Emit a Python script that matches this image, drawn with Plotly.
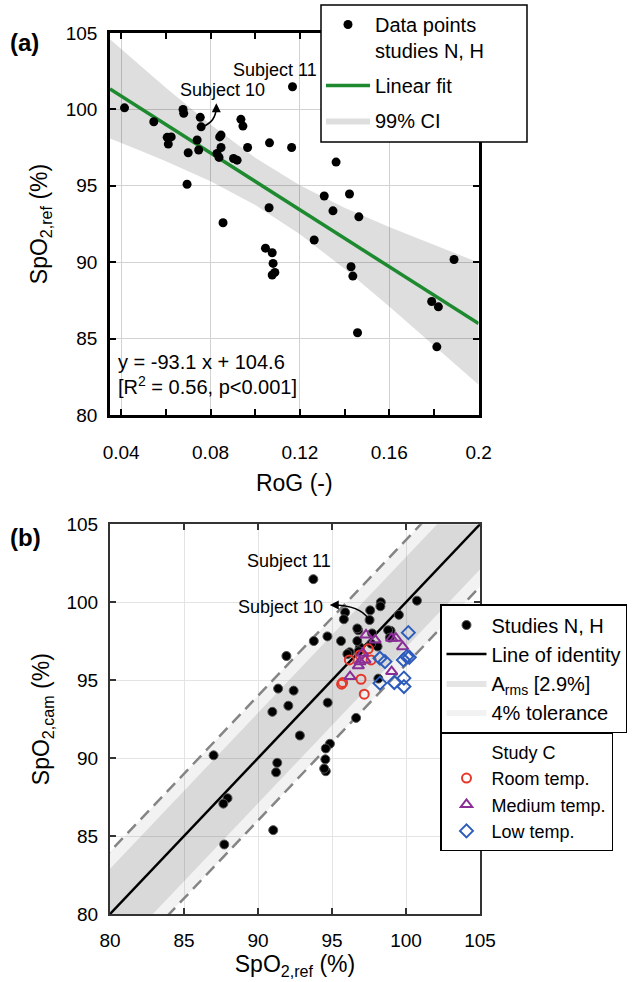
import plotly.graph_objects as go

FONT = "Liberation Sans, Arial, sans-serif"

# ---------------- Panel (a) data ----------------
rog = [0.0415, 0.0546, 0.0606, 0.0624, 0.0611, 0.0677, 0.0680, 0.0700, 0.0695, 0.0740,
       0.0747, 0.0754, 0.0758, 0.0829, 0.0838, 0.0841, 0.0847, 0.0847, 0.0903, 0.0919,
       0.0936, 0.0945, 0.0966, 0.1064, 0.1163, 0.1167, 0.1062, 0.0856, 0.1046, 0.1076,
       0.1080, 0.1076, 0.1088, 0.1264, 0.1362, 0.1309, 0.1422, 0.1348, 0.1464, 0.1429,
       0.1437, 0.1458, 0.1890, 0.1790, 0.1820, 0.1813]
spo2_ref_a = [100.10, 99.19, 98.17, 98.20, 97.73, 100.00, 99.74, 97.16, 95.10, 98.00,
              97.34, 99.48, 98.86, 97.12, 96.86, 98.20, 98.32, 97.51, 96.79, 96.68,
              99.35, 98.91, 97.51, 97.81, 97.51, 101.48, 93.56, 92.58, 90.92, 90.62,
              89.92, 89.16, 89.33, 91.45, 96.55, 94.33, 94.46, 93.36, 92.97, 89.70,
              89.09, 85.38, 90.18, 87.43, 87.08, 84.46]

fit_slope = -93.1
fit_intercept = 104.6
fit_x = [0.035, 0.2]

ci_x = [0.035, 0.05, 0.06, 0.08, 0.10, 0.12, 0.14, 0.16, 0.18, 0.20]
ci_upper = [104.59, 102.68, 101.42, 99.01, 96.83, 95.03, 93.57, 92.30, 91.12, 89.98]
ci_lower = [98.09, 97.22, 96.60, 95.29, 93.75, 91.83, 89.57, 87.10, 84.56, 81.98]

# ---------------- Panel (b) data ----------------
nh_ref = [100.74, 99.52, 98.96, 98.79, 98.91, 98.30, 98.27, 98.08, 98.13, 97.71,
          97.65, 97.58, 97.54, 96.88, 96.80, 96.77, 96.71, 96.71, 96.19, 96.04,
          95.89, 95.80, 95.61, 94.69, 93.77, 93.74, 94.71, 96.63, 94.86, 94.58,
          94.55, 94.58, 94.47, 92.83, 91.92, 92.41, 91.36, 92.05, 90.97, 91.30,
          91.22, 91.03, 87.00, 87.94, 87.66, 87.72]
nh_cam = spo2_ref_a

room_x = [97.45, 96.17, 96.89, 97.64, 96.96, 95.65, 95.72, 97.18]
room_y = [97.01, 96.30, 96.62, 96.30, 95.06, 94.74, 94.85, 94.10]
med_x = [97.30, 97.91, 99.03, 99.32, 99.77, 97.07, 97.23, 96.89, 96.78, 96.22, 99.03]
med_y = [97.90, 97.58, 97.69, 97.69, 97.15, 96.73, 96.30, 96.19, 95.92, 95.23, 95.55]
low_x = [100.16, 98.24, 98.58, 99.82, 100.05, 100.22, 98.24, 99.21, 99.86, 99.86]
low_y = [98.05, 96.41, 96.19, 96.30, 96.51, 96.47, 94.81, 94.85, 95.13, 94.59]

identity_x = [75, 110]
arms = 2.9
tolerance = 4.0

fig = go.Figure()

# ---- (a) traces ----
fig.add_trace(go.Scatter(
    x=ci_x + ci_x[::-1], y=ci_upper + ci_lower[::-1], fill="toself",
    fillcolor="rgba(0,0,0,0.13)", line=dict(width=0), mode="lines",
    name="99% CI", legend="legend", legendrank=3, legendgroup="ci", hoverinfo="skip",
    xaxis="x", yaxis="y"))
fig.add_trace(go.Scatter(
    x=fit_x, y=[fit_intercept + fit_slope * v for v in fit_x], mode="lines",
    line=dict(color="#1e8a30", width=3.5), name="Linear fit",
    legend="legend", legendrank=2, legendgroup="fit", xaxis="x", yaxis="y"))
fig.add_trace(go.Scatter(
    x=rog, y=spo2_ref_a, mode="markers",
    marker=dict(color="black", size=9),
    name="Data points<br>studies N, H", legend="legend", legendrank=1,
    legendgroup="pts", xaxis="x", yaxis="y"))

# ---- (b) traces ----
fig.add_trace(go.Scatter(
    x=identity_x + identity_x[::-1],
    y=[v + tolerance for v in identity_x] + [v - tolerance for v in identity_x[::-1]],
    fill="toself", fillcolor="rgba(0,0,0,0.05)", line=dict(width=0), mode="lines",
    name="4% tolerance", legend="legend2", legendrank=4, hoverinfo="skip",
    xaxis="x2", yaxis="y2"))
fig.add_trace(go.Scatter(
    x=identity_x + identity_x[::-1],
    y=[v + arms for v in identity_x] + [v - arms for v in identity_x[::-1]],
    fill="toself", fillcolor="rgba(0,0,0,0.10)", line=dict(width=0), mode="lines",
    name="A<sub>rms</sub> [2.9%]", legend="legend2", legendrank=3, hoverinfo="skip",
    xaxis="x2", yaxis="y2"))
for sgn in (1, -1):
    fig.add_trace(go.Scatter(
        x=identity_x, y=[v + sgn * tolerance for v in identity_x], mode="lines",
        line=dict(color="#858585", width=2.5, dash="12px,7px"), showlegend=False,
        hoverinfo="skip", xaxis="x2", yaxis="y2"))
fig.add_trace(go.Scatter(
    x=identity_x, y=identity_x, mode="lines", line=dict(color="black", width=2.5),
    name="Line of identity", legend="legend2", legendrank=2, xaxis="x2", yaxis="y2"))
fig.add_trace(go.Scatter(
    x=nh_ref, y=nh_cam, mode="markers",
    marker=dict(color="black", size=9, line=dict(color="#555555", width=1)),
    name="Studies N, H", legend="legend2", legendrank=1, xaxis="x2", yaxis="y2"))

fig.add_trace(go.Scatter(
    x=[None], y=[None], mode="markers", marker=dict(color="rgba(0,0,0,0)", size=1),
    name="Study C", legend="legend3", legendrank=1, xaxis="x2", yaxis="y2"))
fig.add_trace(go.Scatter(
    x=room_x, y=room_y, mode="markers",
    marker=dict(symbol="circle-open", color="#e5372a", size=9, line=dict(width=2)),
    name="Room temp.", legend="legend3", legendrank=2, xaxis="x2", yaxis="y2"))
fig.add_trace(go.Scatter(
    x=med_x, y=med_y, mode="markers",
    marker=dict(symbol="triangle-up-open", color="#8a2d96", size=10, line=dict(width=2)),
    name="Medium temp.", legend="legend3", legendrank=3, xaxis="x2", yaxis="y2"))
fig.add_trace(go.Scatter(
    x=low_x, y=low_y, mode="markers",
    marker=dict(symbol="diamond-open", color="#2d5cbd", size=10, line=dict(width=2)),
    name="Low temp.", legend="legend3", legendrank=4, xaxis="x2", yaxis="y2"))

W, H = 635, 982
tickfont = dict(family=FONT, size=19, color="black")
titlefont = dict(family=FONT, size=23, color="black")

axis_a = dict(showline=True, linecolor="black", linewidth=2.5, mirror="ticks",
              ticks="inside", ticklen=6, tickwidth=1.5, tickcolor="black",
              showgrid=True, gridcolor="#d2d2d2", gridwidth=1, zeroline=False,
              tickfont=tickfont, automargin=False)
axis_b = dict(showline=True, linecolor="#333333", linewidth=2, mirror="ticks",
              ticks="inside", ticklen=6, tickwidth=1.5, tickcolor="#333333",
              showgrid=True, gridcolor="#e4e4e4", gridwidth=1, zeroline=False,
              tickfont=tickfont, automargin=False)

legend_common = dict(bgcolor="white", bordercolor="black", borderwidth=1.5,
                     font=dict(family=FONT, size=20, color="black"),
                     xanchor="left", yanchor="top", valign="top")

fig.update_layout(
    width=W, height=H, margin=dict(l=0, r=0, t=0, b=0, autoexpand=False),
    paper_bgcolor="white", plot_bgcolor="white",
    font=dict(family=FONT, size=19, color="black"),
    xaxis=dict(axis_a, domain=[110 / W, 478.6 / W], range=[0.035, 0.2],
               tick0=0, dtick=0.04, anchor="y", ticklabelstandoff=18,
               minor=dict(dtick=0.02, tick0=0, ticks="inside", ticklen=6,
                          tickcolor="black", showgrid=False),
               title=dict(text="RoG (-)", font=titlefont, standoff=14)),
    yaxis=dict(axis_a, domain=[1 - 415 / H, 1 - 33 / H], range=[80, 105],
               dtick=5, anchor="x", ticklabelstandoff=6,
               title=dict(text="SpO<sub>2,ref</sub> (%)", font=titlefont, standoff=12)),
    xaxis2=dict(axis_b, domain=[110 / W, 480 / W], range=[80, 105], dtick=5,
                anchor="y2", ticklabelstandoff=8,
                title=dict(text="SpO<sub>2,ref</sub> (%)", font=titlefont, standoff=6)),
    yaxis2=dict(axis_b, domain=[1 - 914 / H, 1 - 524.3 / H], range=[80, 105],
                dtick=5, anchor="x2", ticklabelstandoff=6,
                title=dict(text="SpO<sub>2,cam</sub> (%)", font=titlefont, standoff=10)),
    legend=dict(legend_common, x=321 / W, y=1 - 5 / H, itemwidth=44,
                bgcolor="rgba(0,0,0,0)", borderwidth=0,
                tracegroupgap=6, traceorder="grouped"),
    legend2=dict(legend_common, x=440 / W, y=1 - 604 / H, itemwidth=40,
                 tracegroupgap=0, entrywidth=138),
    legend3=dict(legend_common, x=440 / W, y=1 - 732 / H, itemwidth=40,
                 tracegroupgap=0, entrywidth=138,
                 font=dict(family=FONT, size=18, color="black")),
    showlegend=True,
)

# box behind legend (a)
fig.add_shape(type="rect", xref="paper", yref="paper",
              x0=321 / W, x1=527 / W, y0=1 - 142 / H, y1=1 - 5 / H,
              fillcolor="white", line=dict(color="black", width=1.5), layer="above")

# Subject 10 curved arrows
fig.add_shape(type="path", xref="x", yref="y",
              path="M 0.0768,98.9 Q 0.0824,99.2 0.0826,100.15",
              line=dict(color="black", width=1.5))
fig.add_annotation(x=0.0826, y=100.4, ax=0.0826, ay=100.05, xref="x", yref="y",
                   axref="x", ayref="y", text="", showarrow=True, arrowhead=2,
                   arrowsize=1.2, arrowwidth=1.5, arrowcolor="black")
fig.add_shape(type="path", xref="x2", yref="y2",
              path="M 97.45,98.95 Q 96.9,99.8 95.05,99.83",
              line=dict(color="black", width=1.5))
fig.add_annotation(x=94.85, y=99.83, ax=95.25, ay=99.83, xref="x2", yref="y2",
                   axref="x2", ayref="y2", text="", showarrow=True, arrowhead=2,
                   arrowsize=1.2, arrowwidth=1.5, arrowcolor="black")

subj_font = dict(family=FONT, size=18, color="black")
fig.add_annotation(x=0.109, y=102.6, xref="x", yref="y", text="Subject 11",
                   showarrow=False, font=subj_font)
fig.add_annotation(x=0.0853, y=101.26, xref="x", yref="y", text="Subject 10",
                   showarrow=False, font=subj_font)
fig.add_annotation(x=92.1, y=102.65, xref="x2", yref="y2", text="Subject 11",
                   showarrow=False, font=subj_font)
fig.add_annotation(x=91.49, y=99.72, xref="x2", yref="y2", text="Subject 10",
                   showarrow=False, font=subj_font)

eq_font = dict(family=FONT, size=20, color="black")
fig.add_annotation(x=0.0379, y=83.46, xref="x", yref="y", xanchor="left",
                   text="y = -93.1 x + 104.6", showarrow=False, font=eq_font)
fig.add_annotation(x=0.0379, y=81.96, xref="x", yref="y", xanchor="left",
                   text="[R<sup>2</sup> = 0.56, p&lt;0.001]", showarrow=False, font=eq_font)

lab_font = dict(family=FONT, size=24, color="black")
fig.add_annotation(x=8 / W, y=1 - 42 / H, xref="paper", yref="paper", xanchor="left",
                   yanchor="middle", text="<b>(a)</b>", showarrow=False, font=lab_font)
fig.add_annotation(x=8 / W, y=1 - 537 / H, xref="paper", yref="paper", xanchor="left",
                   yanchor="middle", text="<b>(b)</b>", showarrow=False, font=lab_font)

fig.write_html("out.html", config={"displayModeBar": False},
               post_script="document.body.style.margin='0';document.body.style.padding='0';")
